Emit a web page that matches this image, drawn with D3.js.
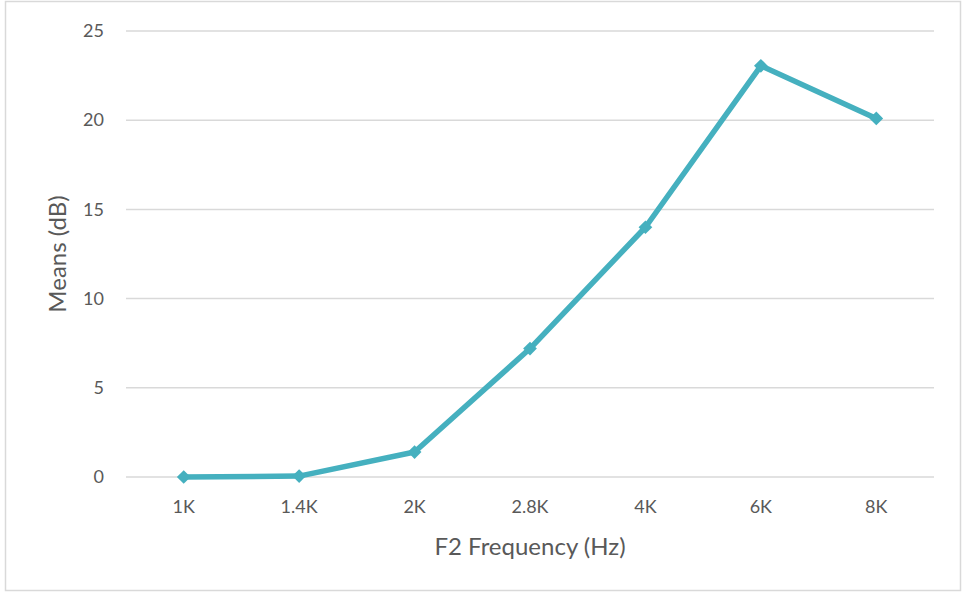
<!DOCTYPE html>
<html>
<head>
<meta charset="utf-8">
<script src="https://cdn.jsdelivr.net/npm/d3@7/dist/d3.min.js"></script>
<style>
  html, body { margin: 0; padding: 0; background: #fff; }
  svg { display: block; font-family: Lato, "Open Sans", sans-serif; }
</style>
</head>
<body>
<svg id="chart" width="964" height="592"></svg>
<script>
// F2 frequency categories and mean values (dB)
const categories = ["1K", "1.4K", "2K", "2.8K", "4K", "6K", "8K"];
const means = [0, 0.05, 1.4, 7.2, 14.0, 23.05, 20.1];
const yTicks = [0, 5, 10, 15, 20, 25];

const svg = d3.select("#chart");
const W = 964, H = 592;
const plot = { left: 126, right: 934, top: 31, bottom: 477 };
const textColor = "#595959";
const font = "Lato, 'Open Sans', sans-serif";

// Outer chart border
svg.append("rect")
  .attr("x", 5.5).attr("y", 1.5)
  .attr("width", W - 9).attr("height", H - 3)
  .attr("fill", "#fff").attr("stroke", "#d9d9d9").attr("stroke-width", 1.5);

const x = d3.scaleBand().domain(categories).range([plot.left, plot.right]);
const y = d3.scaleLinear().domain([0, 25]).range([plot.bottom, plot.top]);

// Horizontal gridlines
svg.append("g")
  .selectAll("line")
  .data(yTicks)
  .join("line")
  .attr("x1", plot.left).attr("x2", plot.right)
  .attr("y1", d => y(d)).attr("y2", d => y(d))
  .attr("stroke", "#d9d9d9").attr("stroke-width", 1.5);

// Y axis labels
const yAxis = svg.append("g")
  .attr("transform", `translate(${plot.left},0)`)
  .call(d3.axisLeft(y).tickValues(yTicks).tickSize(0).tickPadding(22));
yAxis.select(".domain").remove();
yAxis.selectAll("text").attr("fill", textColor).style("font-size", "18px")
  .style("font-family", font);

// X axis labels
const xAxis = svg.append("g")
  .attr("transform", `translate(0,${plot.bottom})`)
  .call(d3.axisBottom(x).tickSize(0).tickPadding(23));
xAxis.select(".domain").remove();
xAxis.selectAll("text").attr("fill", textColor).style("font-size", "18px")
  .style("font-family", font);

// Axis titles
svg.append("text")
  .attr("x", 530).attr("y", 555)
  .attr("text-anchor", "middle")
  .attr("fill", textColor).style("font-size", "24px")
  .text("F2 Frequency (Hz)");

svg.append("text")
  .attr("transform", "translate(66,254) rotate(-90)")
  .attr("text-anchor", "middle")
  .attr("fill", textColor).style("font-size", "24px")
  .text("Means (dB)");

// Data line
const cx = (d, i) => x(categories[i]) + x.bandwidth() / 2;
const line = d3.line().x((d, i) => cx(d, i)).y(d => y(d));
const color = "#45b0bf";

svg.append("path")
  .datum(means)
  .attr("d", line)
  .attr("fill", "none")
  .attr("stroke", color)
  .attr("stroke-width", 5.5)
  .attr("stroke-linejoin", "round");

// Diamond markers
const diamond = d3.symbol().type(d3.symbolDiamond2).size(120);
svg.append("g")
  .selectAll("path")
  .data(means)
  .join("path")
  .attr("transform", (d, i) => `translate(${cx(d, i)},${y(d)})`)
  .attr("d", diamond)
  .attr("fill", color);
</script>
</body>
</html>
